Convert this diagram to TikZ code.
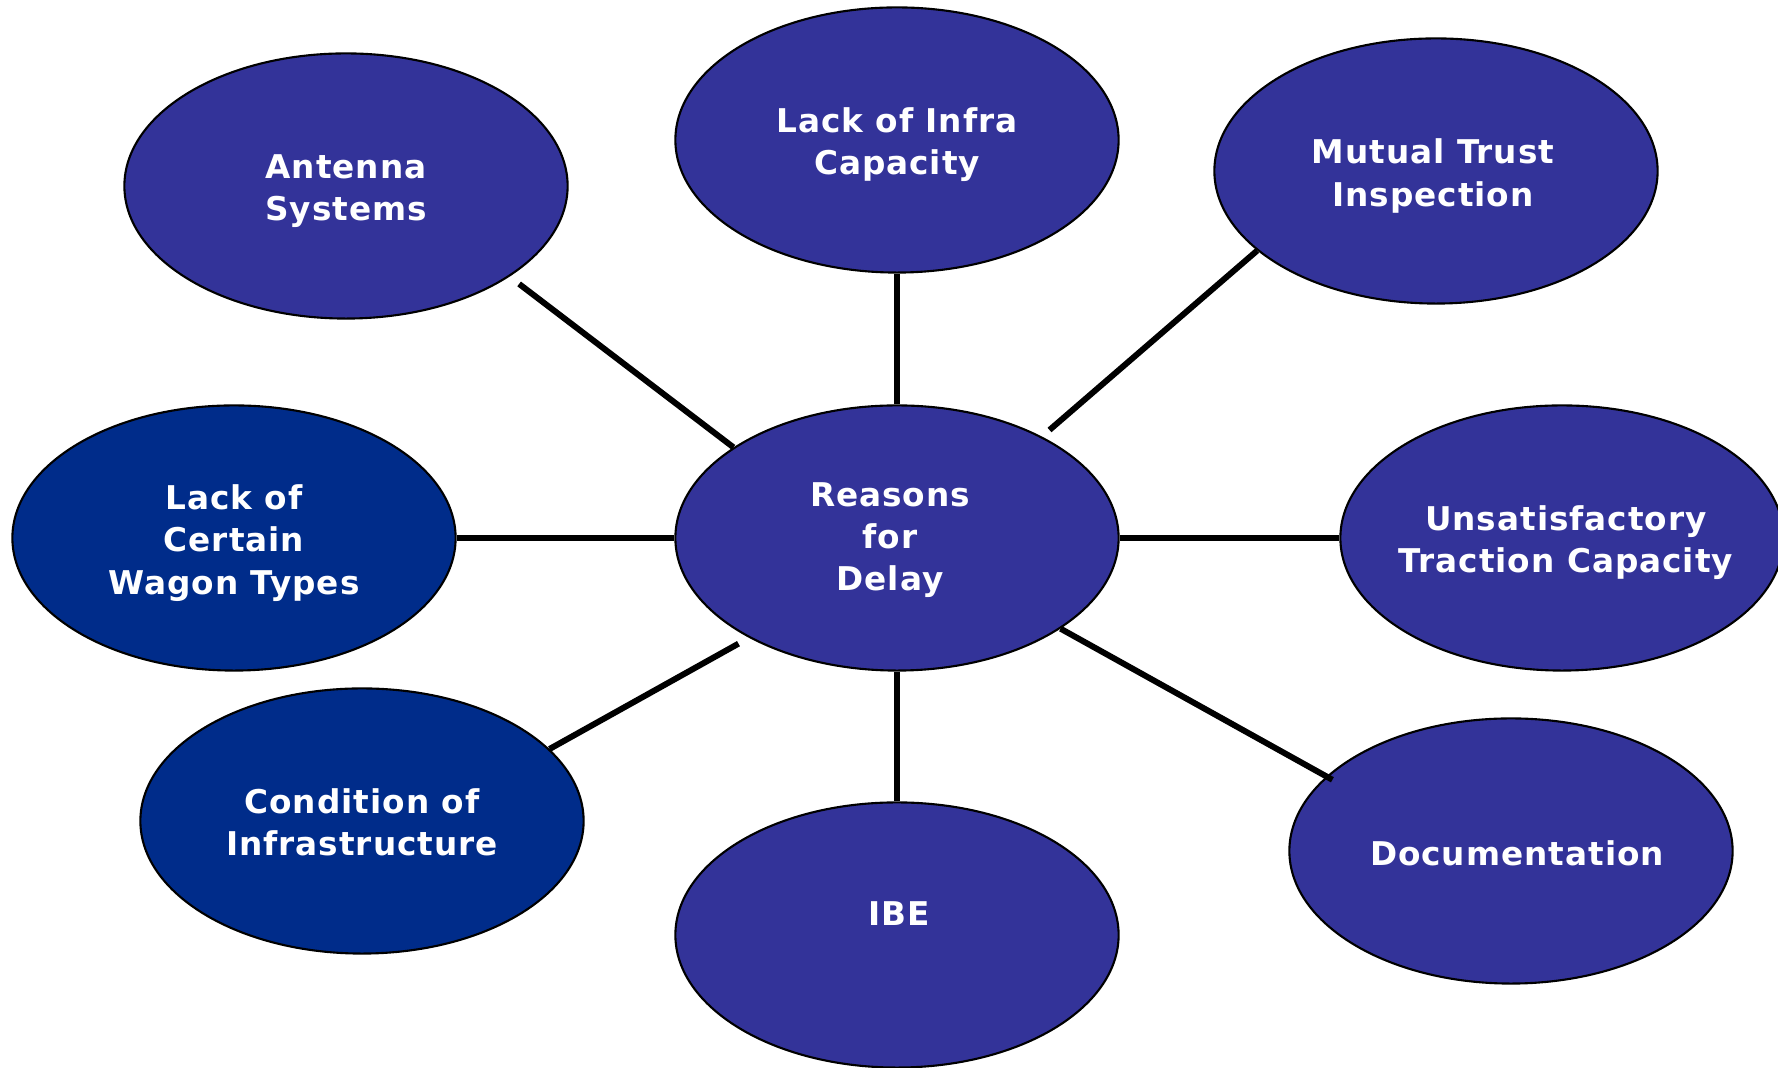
\documentclass[tikz,border=0pt]{standalone}
\usepackage{fontspec}
\newfontfamily\bubblefont{DejaVu Sans}[LetterSpace=3]
\usetikzlibrary{shapes.geometric}

\begin{document}
\begin{tikzpicture}[x=0.01cm, y=-0.01cm,
  bubble/.style={ellipse, draw=black, line width=0.6pt, minimum width=4.43cm, minimum height=2.65cm, inner sep=0pt},
  btext/.style={text=white, align=center, inner sep=0pt, font=\bubblefont\bfseries\fontsize{9.3}{12}\selectfont},
  link/.style={line width=1.7pt}]
\definecolor{violeta}{HTML}{333399}
\definecolor{marino}{HTML}{002C8A}

\useasboundingbox (0,0) rectangle (1778,1068);

% Elipses (centros en px)
\foreach \n/\x/\y/\c in {antenna/346/186/violeta, infra/897/140/violeta, mutual/1436/171/violeta,
  wagon/234/538/marino, reasons/897/538/violeta, traction/1562/538/violeta,
  condition/362/821/marino, ibe/897/935/violeta, docs/1511/851/violeta}{
  \node[bubble, fill=\c] (\n) at (\x,\y) {};
}

% Textos
\foreach \n/\x/\y/\txt in {antenna/346/191/{Antenna\\Systems}, infra/897/145/{Lack of Infra\\Capacity},
  mutual/1433/176/{Mutual Trust\\Inspection}, wagon/234/543/{Lack of\\Certain\\Wagon Types},
  reasons/890/540/{Reasons\\for\\Delay}, traction/1566/543/{Unsatisfactory\\Traction Capacity},
  condition/362/822/{Condition of\\Infrastructure}, ibe/899/914/{IBE}, docs/1517/853/{Documentation}}{
  \node[btext] (\n-t) at (\x,\y) {\txt};
}

% Conectores
\draw[link, shorten >=0.12cm] (reasons.151) -- (antenna.-29);
\draw[link] (reasons.north) -- (infra.south);
\draw[link, shorten <=0.10cm] (reasons.35) -- (mutual.-156);
\draw[link] (reasons.west) -- (wagon.east);
\draw[link] (reasons.east) -- (traction.west);
\draw[link, shorten <=0.12cm] (reasons.214) -- (condition.21);
\draw[link] (reasons.south) -- (ibe.north);
\draw[link, shorten >=-0.07cm] (reasons.-29) -- (docs.158);

\end{tikzpicture}
\end{document}
